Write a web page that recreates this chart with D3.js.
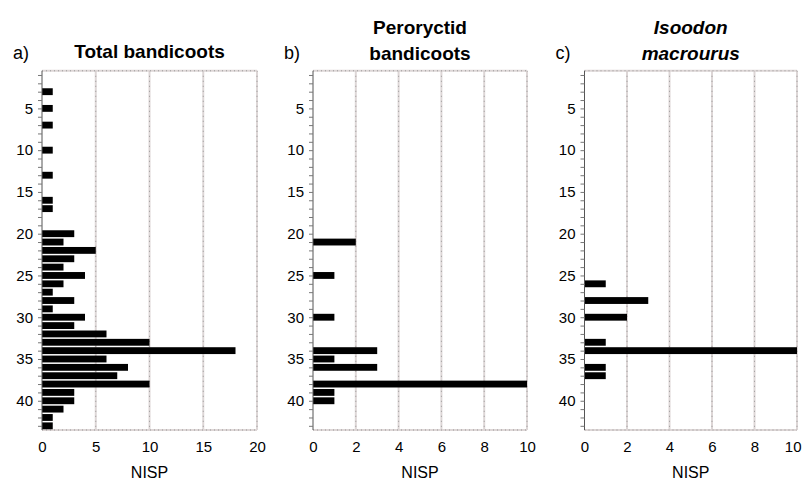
<!DOCTYPE html>
<html>
<head>
    <title>Bandicoot NISP by spit</title>
    <script src="https://d3js.org/d3.v7.min.js"></script>
    <style>
        body { margin: 0; background: #fff; }
        text { font-family: "Liberation Sans Narrow", "Liberation Sans", sans-serif; fill: #000; }
    </style>
</head>
<body>
    <script>
        // spit numbers and NISP counts
        var totalSpits = [3, 5, 7, 10, 13, 16, 17, 20, 21, 22, 23, 24, 25, 26, 27, 28, 29, 30, 31, 32, 33, 34, 35, 36, 37, 38, 39, 40, 41, 42, 43];
        var totalNisp  = [1, 1, 1, 1, 1, 1, 1, 3, 2, 5, 3, 2, 4, 2, 1, 3, 1, 4, 3, 6, 10, 18, 6, 8, 7, 10, 3, 3, 2, 1, 1];

        var peroSpits = [21, 25, 30, 34, 35, 36, 38, 39, 40];
        var peroNisp  = [2, 1, 1, 3, 1, 3, 10, 1, 1];

        var isooSpits = [26, 28, 30, 33, 34, 36, 37];
        var isooNisp  = [1, 3, 2, 1, 10, 1, 1];

        var yTicks = [5, 10, 15, 20, 25, 30, 35, 40];
        var xTicksA = [0, 5, 10, 15, 20];
        var xTicksB = [0, 2, 4, 6, 8, 10];

        var panels = [
            {letter: "a)", title: ["Total bandicoots"], italic: false, spits: totalSpits, nisp: totalNisp, max: 20, ticks: xTicksA, x0: 42, x1: 257},
            {letter: "b)", title: ["Peroryctid", "bandicoots"], italic: false, spits: peroSpits, nisp: peroNisp, max: 10, ticks: xTicksB, x0: 313, x1: 527},
            {letter: "c)", title: ["Isoodon", "macrourus"], italic: true, spits: isooSpits, nisp: isooNisp, max: 10, ticks: xTicksB, x0: 584.5, x1: 797}
        ];

        var W = 802, H = 482;
        var yTop = 70.8, yBot = 430;

        var svg = d3.select("body")
            .append("svg")
            .attr("width", W)
            .attr("height", H);

        var y = d3.scaleLinear().domain([0.5, 43.5]).range([yTop, yBot]);
        var barH = (y(1) - y(0)) * 0.82;

        panels.forEach(function(p) {
            var x = d3.scaleLinear().domain([0, p.max]).range([p.x0, p.x1]);
            var g = svg.append("g");

            // vertical grid lines
            p.ticks.forEach(function(t) {
                if (t === 0) return;
                g.append("line")
                    .attr("x1", x(t)).attr("x2", x(t))
                    .attr("y1", yTop).attr("y2", yBot)
                    .attr("stroke", "#ddd6d6").attr("stroke-width", 2);
                g.append("line")
                    .attr("x1", x(t)).attr("x2", x(t))
                    .attr("y1", yTop).attr("y2", yBot)
                    .attr("stroke", "#999").attr("stroke-width", 1)
                    .attr("stroke-dasharray", "1,4");
            });

            // top and bottom frame lines
            [yTop, yBot].forEach(function(yy) {
                g.append("line")
                    .attr("x1", p.x0).attr("x2", p.x1)
                    .attr("y1", yy).attr("y2", yy)
                    .attr("stroke", "#ddd6d6").attr("stroke-width", 2);
                g.append("line")
                    .attr("x1", p.x0).attr("x2", p.x1)
                    .attr("y1", yy).attr("y2", yy)
                    .attr("stroke", "#999").attr("stroke-width", 1)
                    .attr("stroke-dasharray", "1,3");
            });

            // bars
            g.selectAll("rect.bar")
                .data(p.spits)
                .enter()
                .append("rect")
                .attr("class", "bar")
                .attr("x", x(0))
                .attr("y", function(d) { return y(d) - barH / 2; })
                .attr("width", function(d, i) { return x(p.nisp[i]) - x(0); })
                .attr("height", barH)
                .attr("fill", "#000");

            // y axis
            var yAxis = d3.axisLeft(y)
                .tickValues(d3.range(1, 44))
                .tickSize(4)
                .tickFormat(function(d) { return yTicks.indexOf(d) >= 0 ? d : ""; });
            var ya = g.append("g")
                .attr("transform", "translate(" + x(0) + ",0)")
                .call(yAxis);
            ya.select(".domain").attr("stroke", "#555").attr("d", "M0," + yTop + "V" + yBot);
            ya.selectAll(".tick line").attr("stroke", "#777");
            ya.selectAll(".tick text")
                .attr("x", -9)
                .style("font-family", "'Liberation Sans Narrow', sans-serif")
                .style("font-size", "15px")
                .attr("fill", "#000");

            // x axis labels
            var xAxis = d3.axisBottom(x).tickValues(p.ticks).tickSize(0).tickFormat(d3.format("d"));
            var xa = g.append("g")
                .attr("transform", "translate(0," + yBot + ")")
                .call(xAxis);
            xa.select(".domain").remove();
            xa.selectAll(".tick text")
                .attr("y", 11)
                .style("font-family", "'Liberation Sans Narrow', sans-serif")
                .style("font-size", "15px")
                .attr("fill", "#000");
            // keep the last label of the right panel inside the picture
            if (p.x1 + 9 > W) {
                xa.selectAll(".tick text")
                    .filter(function(d) { return d === p.max; })
                    .attr("text-anchor", "end")
                    .attr("dx", 4);
            }

            g.append("text")
                .attr("x", (p.x0 + p.x1) / 2)
                .attr("y", 478)
                .attr("text-anchor", "middle")
                .style("font-size", "16px")
                .text("NISP");

            // panel title
            var cx = (p.x0 + p.x1) / 2;
            var baselines = p.title.length === 1 ? [58] : [34, 60];
            p.title.forEach(function(line, i) {
                g.append("text")
                    .attr("x", cx)
                    .attr("y", baselines[i])
                    .attr("text-anchor", "middle")
                    .style("font-size", "19px")
                    .style("font-weight", "bold")
                    .style("font-style", p.italic ? "italic" : "normal")
                    .text(line);
            });

            g.append("text")
                .attr("x", p.x0 - 29)
                .attr("y", 59)
                .style("font-size", "18px")
                .text(p.letter);
        });
    </script>
</body>
</html>
